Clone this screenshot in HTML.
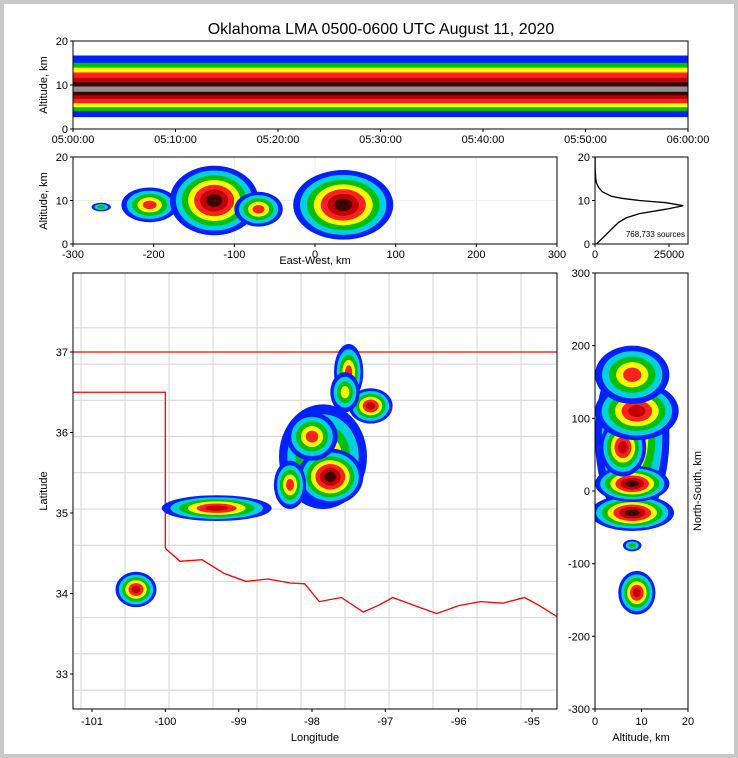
<!DOCTYPE html>
<html><head><meta charset="utf-8"><style>
body{margin:0;background:#c8c8c8;}
svg{position:absolute;left:0;top:0;font-family:"Liberation Sans",sans-serif;}
</style></head><body>
<svg id="s" width="738" height="758"></svg>
<script>
// ---- data ----
const histAlt=[0,1,2,3,4,5,6,7,8,8.8,9.5,10,10.5,11,12,13,14,15,17,20];
const histCount=[500,2000,3500,5000,6500,8000,10500,15000,24000,29800,24000,15000,9000,5500,2500,1200,500,250,80,20];
const xtTime=["05:00:00","05:10:00","05:20:00","05:30:00","05:40:00","05:50:00","06:00:00"];
const cellLon=[-97.85,-99.3,-97.75,-97.2,-97.5,-100.4,-98.0,-98.3,-97.55];
const cellLat=[35.7,35.06,35.45,36.33,36.75,34.05,35.95,35.35,36.5];
const cellRx=[0.6,0.75,0.45,0.3,0.2,0.28,0.35,0.22,0.2];
const cellRy=[0.65,0.16,0.35,0.22,0.35,0.22,0.3,0.3,0.25];
const cellInt=[3,4,5,4,3,4,3,3,2];
const ewPos=[-205,-125,-70,35,-265];
const ewAlt=[9,10,8,9,8.5];
const ewW=[35,55,30,62,12];
const ewH=[4,8,4,8,1];
const ewInt=[3,5,3,5,1];
const nsPos=[-30,10,60,110,160,-140,-75,75];
const nsAlt=[8,8,6,9,8,9,8,8];
const nsW=[25,25,40,40,40,30,8,120];
const nsH=[9,8,5,9,8,4,2,8];
const nsInt=[5,5,4,4,3,4,1,3];

const S=document.getElementById('s'),NS='http://www.w3.org/2000/svg';
function el(t,a,p){const e=document.createElementNS(NS,t);for(const k in a)e.setAttribute(k,a[k]);(p||S).appendChild(e);return e;}
function txt(x,y,s,o){const e=el('text',Object.assign({x:x,y:y,'font-size':11,fill:'#000'},o||{}));e.textContent=s;return e;}
const cols=['#0020ff','#00d0e0','#00c000','#ffff00','#ff2020','#c00000','#400000','#ffffff'];
function blob(g,cx,cy,rx,ry,n){
  const nl=Math.min(cols.length,2+n);
  for(let i=0;i<nl;i++){const f=1-i/(nl+0.3);
    const e=el('ellipse',{cx:cx,cy:cy,rx:Math.max(1,rx*f),ry:Math.max(1,ry*f),fill:cols[i]},g);
    }
}
function frame(x,y,w,h,name){const r=el('rect',{x:x,y:y,width:w,height:h,fill:'none',stroke:'#000','stroke-width':1});}
function clip(id,x,y,w,h){const c=el('clipPath',{id:id});el('rect',{x:x,y:y,width:w,height:h},c);}
el('rect',{x:0,y:0,width:738,height:758,fill:'#c8c8c8'});el('rect',{x:4,y:4,width:730,height:750,fill:'#fff'});
const t=txt(381,34,'Oklahoma LMA 0500-0600 UTC August 11, 2020',{'font-size':16,'text-anchor':'middle'});

// ---- top time-height panel ----
const TX0=73,TX1=688,TY0=41,TY1=129;
const ty=a=>TY1-(a/20)*(TY1-TY0);
clip('c1',TX0,TY0,TX1-TX0,TY1-TY0);
const g1=el('g',{'clip-path':'url(#c1)'});
const bandH=[7,5.5,4.5,3.5,2.4,1.5,0.6];
const bandC=['#0020ff','#00c000','#ffff00','#ff2020','#c00000','#400000','#909090'];
bandH.forEach((h,i)=>{const r=el('rect',{x:TX0,y:ty(9+h*1.1),width:TX1-TX0,height:ty(9-h*0.9)-ty(9+h*1.1),fill:bandC[i]},g1);});
frame(TX0,TY0,TX1-TX0,TY1-TY0,'time-height-frame');
[0,10,20].forEach(v=>{el('line',{x1:TX0-3,x2:TX0,y1:ty(v),y2:ty(v),stroke:'#000'});txt(TX0-5,ty(v)+4,v,{'text-anchor':'end'});});
xtTime.forEach((s,i)=>{const x=TX0+i*(TX1-TX0)/6;el('line',{x1:x,x2:x,y1:TY1,y2:TY1+3,stroke:'#000'});txt(x,TY1+14,s,{'text-anchor':'middle'});});
txt(47,85,'Altitude, km',{transform:'rotate(-90 47 85)','text-anchor':'middle'});

// ---- EW altitude panel ----
const MX0=73,MX1=557,MY0=157,MY1=244;
const mx=v=>MX0+(v+300)/600*(MX1-MX0), my=a=>MY1-a/20*(MY1-MY0);
clip('c2',MX0,MY0,MX1-MX0,MY1-MY0);
[-200,-100,0,100,200].forEach(v=>el('line',{x1:mx(v),x2:mx(v),y1:MY0,y2:MY1,stroke:'#eee'}));
el('line',{x1:MX0,x2:MX1,y1:my(10),y2:my(10),stroke:'#eee'});
const g2=el('g',{'clip-path':'url(#c2)'});
ewPos.forEach((p,i)=>blob(g2,mx(p),my(ewAlt[i]),ewW[i]/600*(MX1-MX0),ewH[i]/20*(MY1-MY0),ewInt[i]));
frame(MX0,MY0,MX1-MX0,MY1-MY0,'ew-frame');
[0,10,20].forEach(v=>{el('line',{x1:MX0-3,x2:MX0,y1:my(v),y2:my(v),stroke:'#000'});txt(MX0-5,my(v)+4,v,{'text-anchor':'end'});});
[-300,-200,-100,0,100,200,300].forEach(v=>{el('line',{x1:mx(v),x2:mx(v),y1:MY1,y2:MY1+3,stroke:'#000'});txt(mx(v),MY1+14,v,{'text-anchor':'middle'});});
txt(315,264,'East-West, km',{'text-anchor':'middle'});
txt(47,201,'Altitude, km',{transform:'rotate(-90 47 201)','text-anchor':'middle'});

// ---- histogram ----
const HX0=595,HX1=688;
const hx=c=>HX0+c/25000*(669-HX0);
let d='';histAlt.forEach((a,i)=>{d+=(i?'L':'M')+hx(histCount[i]).toFixed(1)+','+my(a).toFixed(1);});
const hp=el('path',{d:d,fill:'none',stroke:'#000','stroke-width':1.3});
frame(HX0,MY0,HX1-HX0,MY1-MY0,'histogram-frame');
[0,10,20].forEach(v=>{el('line',{x1:HX0-3,x2:HX0,y1:my(v),y2:my(v),stroke:'#000'});txt(HX0-5,my(v)+4,v,{'text-anchor':'end'});});
[0,25000].forEach(v=>{el('line',{x1:hx(v),x2:hx(v),y1:MY1,y2:MY1+3,stroke:'#000'});txt(hx(v),MY1+14,v,{'text-anchor':'middle'});});
txt(685,237,'768,733 sources',{'text-anchor':'end','font-size':8});

// ---- map ----
const PX0=73,PX1=557,PY0=273,PY1=709;
const px=l=>92+(l+101)*73.33, py=l=>352+(37-l)*80.5;
clip('c3',PX0,PY0,PX1-PX0,PY1-PY0);
const gm=el('g',{'clip-path':'url(#c3)'});
for(let lat=32.8;lat<37.5;lat+=0.45)el('line',{x1:PX0,x2:PX1,y1:py(lat),y2:py(lat),stroke:'#d4d4d4','stroke-width':1},gm);
for(let lon=-101.15;lon<-94.5;lon+=0.6)el('line',{x1:px(lon),x2:px(lon),y1:PY0,y2:PY1,stroke:'#d4d4d4','stroke-width':1},gm);
const riv=[[-100,34.56],[-99.8,34.4],[-99.5,34.42],[-99.2,34.25],[-98.9,34.15],[-98.6,34.18],[-98.3,34.13],[-98.1,34.12],[-97.9,33.9],[-97.6,33.95],[-97.3,33.77],[-97.1,33.85],[-96.9,33.95],[-96.6,33.85],[-96.3,33.75],[-96.0,33.85],[-95.7,33.9],[-95.4,33.88],[-95.1,33.95],[-94.9,33.85],[-94.6,33.68]];
let od='M'+PX0+','+py(37)+'L'+PX1+','+py(37)+' M'+PX0+','+py(36.5)+'L'+px(-100)+','+py(36.5)+'L'+px(-100)+','+py(34.56);
riv.forEach(p=>od+='L'+px(p[0]).toFixed(1)+','+py(p[1]).toFixed(1));
const ob=el('path',{d:od,fill:'none',stroke:'#f00','stroke-width':1.3},gm);
el('line',{x1:PX1,x2:PX1,y1:py(37),y2:py(36.5),stroke:'#f00'},gm);
cellLon.forEach((l,i)=>blob(gm,px(l),py(cellLat[i]),cellRx[i]*73.3,cellRy[i]*80.5,cellInt[i]));
frame(PX0,PY0,PX1-PX0,PY1-PY0,'map-frame');
[-101,-100,-99,-98,-97,-96,-95].forEach(v=>{el('line',{x1:px(v),x2:px(v),y1:PY1,y2:PY1+3,stroke:'#000'});txt(px(v),PY1+16,v,{'text-anchor':'middle'});});
[33,34,35,36,37].forEach(v=>{el('line',{x1:PX0-3,x2:PX0,y1:py(v),y2:py(v),stroke:'#000'});txt(PX0-5,py(v)+4,v,{'text-anchor':'end'});});
txt(315,741,'Longitude',{'text-anchor':'middle'});
txt(47,491,'Latitude',{transform:'rotate(-90 47 491)','text-anchor':'middle'});

// ---- NS altitude panel ----
const RX0=595,RX1=688;
const rx=a=>RX0+a/20*(RX1-RX0), ry=v=>PY0+(300-v)/600*(PY1-PY0);
clip('c4',RX0,PY0,RX1-RX0,PY1-PY0);
const g4=el('g',{'clip-path':'url(#c4)'});
const order=[7,0,1,2,3,4,5,6];
order.forEach(i=>blob(g4,rx(nsAlt[i]),ry(nsPos[i]),nsH[i]/20*(RX1-RX0),nsW[i]/600*(PY1-PY0),nsInt[i]));
frame(RX0,PY0,RX1-RX0,PY1-PY0,'ns-frame');
[300,200,100,0,-100,-200,-300].forEach(v=>{el('line',{x1:RX0-3,x2:RX0,y1:ry(v),y2:ry(v),stroke:'#000'});txt(RX0-5,ry(v)+4,v,{'text-anchor':'end'});});
[0,10,20].forEach(v=>{el('line',{x1:rx(v),x2:rx(v),y1:PY1,y2:PY1+3,stroke:'#000'});txt(rx(v),PY1+16,v,{'text-anchor':'middle'});});
txt(641,741,'Altitude, km',{'text-anchor':'middle'});
txt(701,491,'North-South, km',{transform:'rotate(-90 701 491)','text-anchor':'middle'});
</script></body></html>
